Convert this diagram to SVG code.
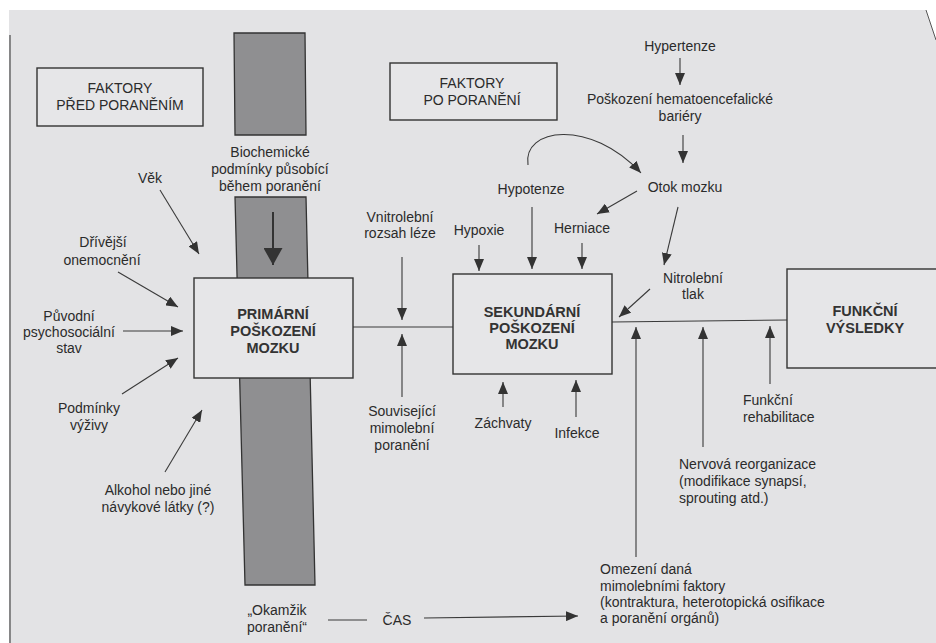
<svg xmlns="http://www.w3.org/2000/svg" width="936" height="643" viewBox="0 0 936 643">
<defs>
<marker id="ah" markerUnits="userSpaceOnUse" markerWidth="12" markerHeight="10" refX="12" refY="5" orient="auto"><path d="M0,0 L12,5 L0,10 z" fill="#333"/></marker>
<marker id="big" markerUnits="userSpaceOnUse" markerWidth="17" markerHeight="19" refX="17" refY="9.5" orient="auto"><path d="M0,0 L17,9.5 L0,19 z" fill="#333"/></marker>
<style>
.t{font-family:"Liberation Sans",Arial,sans-serif;font-size:14px;fill:#2b2b2b}
.c{text-anchor:middle}
.b{font-weight:bold;font-size:14.5px;fill:#333}
.box{fill:#e6e6e8;stroke:#333;stroke-width:1.4}
.ln{stroke:#3a3a3a;stroke-width:1.1;fill:none}
.ar{stroke:#3a3a3a;stroke-width:1.1;fill:none;marker-end:url(#ah)}
.col{fill:#8f8f91;stroke:#333;stroke-width:1.3}
</style>
</defs>
<rect x="0" y="0" width="936" height="643" fill="#ffffff"/>
<rect x="9" y="10" width="930" height="640" fill="#e3e3e5"/>
<polygon points="926,10 936,10 936,40" fill="#ffffff"/>
<line x1="926" y1="10" x2="936" y2="40" stroke="#555" stroke-width="1"/>
<line x1="10" y1="35" x2="10" y2="643" stroke="#555" stroke-width="1.3"/>

<g id="column">
<polygon class="col" points="234,33 305,33 306,135 235,135"/>
<polygon class="col" points="235,197 306,197 315,585 245,585"/>
</g>

<g id="connectors">
<line class="ar" x1="160" y1="190" x2="199" y2="254"/>
<line class="ar" x1="118" y1="272" x2="178" y2="307"/>
<line class="ar" x1="123" y1="331" x2="183" y2="331"/>
<line class="ar" x1="122" y1="394" x2="178" y2="358"/>
<line class="ar" x1="165" y1="472" x2="202" y2="410"/>
<line x1="273" y1="212" x2="273" y2="265" stroke="#333" stroke-width="2" marker-end="url(#big)"/>
<line class="ln" x1="353" y1="327" x2="453" y2="327"/>
<line class="ar" x1="402" y1="257" x2="402" y2="320"/>
<line class="ar" x1="402" y1="397" x2="402" y2="334"/>
<line class="ar" x1="479" y1="245" x2="479" y2="271"/>
<line class="ar" x1="532" y1="207" x2="532" y2="269"/>
<line class="ar" x1="582" y1="243" x2="582" y2="269"/>
<line class="ar" x1="503" y1="407" x2="503" y2="382"/>
<line class="ar" x1="576" y1="417" x2="576" y2="380"/>
<line class="ar" x1="680" y1="58" x2="680" y2="85"/>
<line class="ar" x1="683" y1="135" x2="683" y2="163"/>
<path class="ar" d="M528,165 C522,128 590,118 641,173"/>
<line class="ar" x1="637" y1="191" x2="597" y2="214"/>
<line class="ar" x1="678" y1="207" x2="664" y2="265"/>
<line class="ar" x1="650" y1="289" x2="619" y2="317"/>
<line class="ln" x1="612" y1="322" x2="787" y2="320"/>
<line class="ar" x1="636" y1="557" x2="636" y2="327"/>
<line class="ar" x1="703" y1="447" x2="703" y2="327"/>
<line class="ar" x1="770" y1="384" x2="770" y2="326"/>
<line class="ln" x1="328" y1="620" x2="367" y2="620"/>
<line class="ar" x1="424" y1="618" x2="578" y2="616"/>
</g>

<g id="faktory-pred">
<rect class="box" x="37" y="68" width="166" height="58"/>
<text class="t c" x="120" y="93">FAKTORY</text>
<text class="t c" x="120" y="110">PŘED PORANĚNÍM</text>
</g>
<g id="faktory-po">
<rect class="box" x="390" y="63" width="167" height="57"/>
<text class="t c" x="472" y="88">FAKTORY</text>
<text class="t c" x="472" y="105">PO PORANĚNÍ</text>
</g>
<g id="biochemicke">
<text class="t c" x="270" y="157">Biochemické</text>
<text class="t c" x="270" y="174">podmínky působící</text>
<text class="t c" x="270" y="191">během poranění</text>
</g>
<g id="vek"><text class="t c" x="150" y="183">Věk</text></g>
<g id="drivejsi">
<text class="t c" x="103" y="247">Dřívější</text>
<text class="t c" x="102" y="265">onemocnění</text>
</g>
<g id="puvodni">
<text class="t c" x="69" y="321">Původní</text>
<text class="t c" x="69" y="337">psychosociální</text>
<text class="t c" x="69" y="353">stav</text>
</g>
<g id="podminky">
<text class="t c" x="89" y="413">Podmínky</text>
<text class="t c" x="89" y="430">výživy</text>
</g>
<g id="alkohol">
<text class="t c" x="158" y="495">Alkohol nebo jiné</text>
<text class="t c" x="158" y="512">návykové látky (?)</text>
</g>
<g id="primarni">
<rect class="box" x="194" y="278" width="159" height="100"/>
<text class="t c b" x="273" y="319">PRIMÁRNÍ</text>
<text class="t c b" x="273" y="336">POŠKOZENÍ</text>
<text class="t c b" x="273" y="353">MOZKU</text>
</g>
<g id="vnitrolebni">
<text class="t c" x="400" y="222">Vnitrolební</text>
<text class="t c" x="400" y="238">rozsah léze</text>
</g>
<g id="souvisejici">
<text class="t c" x="402" y="416">Související</text>
<text class="t c" x="402" y="433">mimolební</text>
<text class="t c" x="402" y="450">poranění</text>
</g>
<g id="hypoxie"><text class="t c" x="479" y="235">Hypoxie</text></g>
<g id="hypotenze"><text class="t c" x="531" y="194">Hypotenze</text></g>
<g id="herniace"><text class="t c" x="582" y="233">Herniace</text></g>
<g id="sekundarni">
<rect class="box" x="453" y="274" width="159" height="100"/>
<text class="t c b" x="532" y="317">SEKUNDÁRNÍ</text>
<text class="t c b" x="532" y="333">POŠKOZENÍ</text>
<text class="t c b" x="532" y="349">MOZKU</text>
</g>
<g id="zachvaty"><text class="t c" x="503" y="428">Záchvaty</text></g>
<g id="infekce"><text class="t c" x="577" y="438">Infekce</text></g>
<g id="hypertenze"><text class="t c" x="680" y="51">Hypertenze</text></g>
<g id="bariera">
<text class="t c" x="680" y="104">Poškození hematoencefalické</text>
<text class="t c" x="680" y="121">bariéry</text>
</g>
<g id="otok"><text class="t c" x="685" y="192">Otok mozku</text></g>
<g id="nitrolebni">
<text class="t c" x="693" y="283">Nitrolební</text>
<text class="t c" x="693" y="299">tlak</text>
</g>
<g id="funkcni">
<rect class="box" x="787" y="269" width="160" height="99"/>
<text class="t c b" x="865" y="316">FUNKČNÍ</text>
<text class="t c b" x="865" y="333">VÝSLEDKY</text>
</g>
<g id="rehabilitace">
<text class="t" x="743" y="405">Funkční</text>
<text class="t" x="743" y="422">rehabilitace</text>
</g>
<g id="nervova">
<text class="t" x="679" y="469">Nervová reorganizace</text>
<text class="t" x="679" y="486">(modifikace synapsí,</text>
<text class="t" x="679" y="503">sprouting atd.)</text>
</g>
<g id="omezeni">
<text class="t" x="600" y="574">Omezení daná</text>
<text class="t" x="600" y="591">mimolebními faktory</text>
<text class="t" x="600" y="607">(kontraktura, heterotopická osifikace</text>
<text class="t" x="600" y="623">a poranění orgánů)</text>
</g>
<g id="okamzik">
<text class="t c" x="277" y="615">„Okamžik</text>
<text class="t c" x="277" y="632">poranění“</text>
</g>
<g id="cas"><text class="t c" x="397" y="625">ČAS</text></g>
</svg>
